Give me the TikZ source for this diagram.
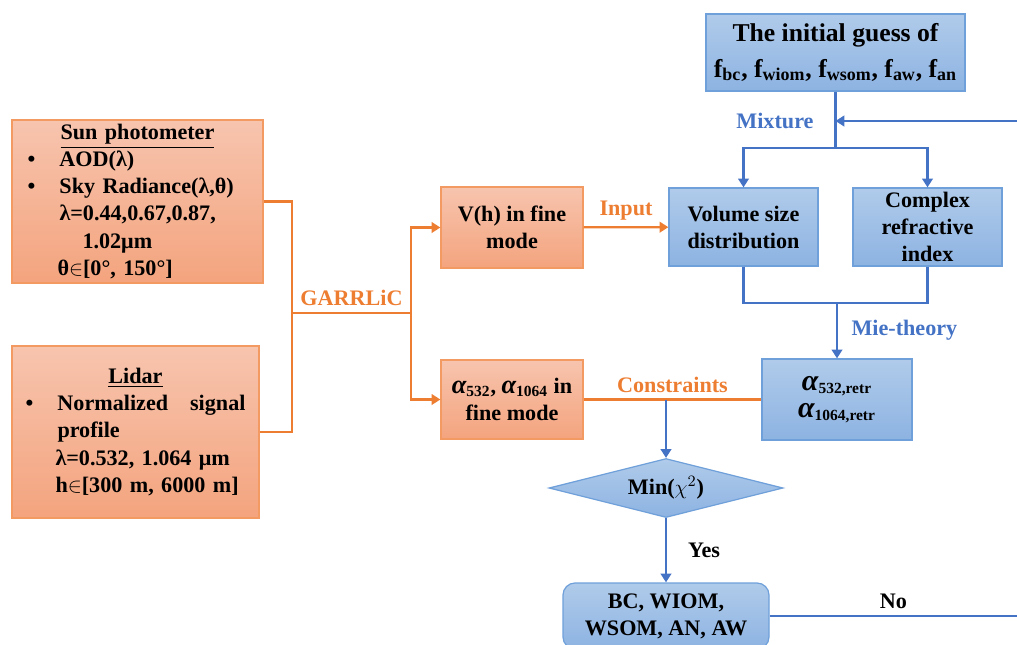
\documentclass[tikz,border=0pt]{standalone}
\usepackage{fontspec}
\setmainfont{Liberation Serif}
\usepackage{xcolor}
\usetikzlibrary{shapes.geometric,arrows.meta,positioning,calc}

\definecolor{orline}{HTML}{ED7D31}
\definecolor{orborder}{HTML}{F29A62}
\definecolor{ortop}{HTML}{F7C4AE}
\definecolor{orbot}{HTML}{F4A47E}
\definecolor{blline}{HTML}{4472C4}
\definecolor{blborder}{HTML}{6FA0DA}
\definecolor{bltop}{HTML}{B0CBEA}
\definecolor{blbot}{HTML}{8DB3E2}

\newcommand{\bul}{\makebox[0.64cm][l]{\textbullet}}
\newcommand{\alp}[1]{{\fontsize{#1}{#1}\selectfont\itshape α}}

\begin{document}
\begin{tikzpicture}[
  font=\bfseries\fontsize{12.6}{15.4}\selectfont,
  obox/.style={draw=orborder, line width=0.7pt, top color=ortop, bottom color=orbot, inner sep=0pt, align=center},
  bbox/.style={draw=blborder, line width=0.7pt, top color=bltop, bottom color=blbot, inner sep=0pt, align=center},
  bdia/.style={diamond, aspect=4, draw=blborder, line width=0.7pt, top color=bltop, bottom color=blbot, inner sep=0pt, minimum width=4.68cm, minimum height=1.18cm},
  oline/.style={draw=orline, line width=1.3pt},
  oarrow/.style={oline, -{Triangle[length=5pt,width=6pt]}},
  bline/.style={draw=blline, line width=1.3pt},
  barrow/.style={bline, -{Triangle[length=5pt,width=6pt]}},
  olabel/.style={text=orline},
  blabel/.style={text=blline}
]
\useasboundingbox (0,0) rectangle (20.34,-12.9);

% Sources
\node[obox, minimum width=5.02cm, minimum height=3.26cm, text width=4.4cm, align=left] (sun) at (2.75,-4.03)
  {\makebox[\linewidth]{\underline{Sun photometer}}\\
   \bul AOD(λ)\\
   \bul Sky Radiance(λ,θ)\\
   \hspace*{0.64cm}λ=0.44,0.67,0.87,\\
   \hspace*{1.1cm}1.02μm\\
   \hspace*{0.6cm}θ$\in$[0°, 150°]};
\node[obox, minimum width=4.94cm, minimum height=3.44cm, text width=4.4cm, align=left] (lidar) at (2.71,-8.64)
  {\makebox[\linewidth]{\underline{Lidar}}\\
   \bul Normalized\hfill signal\\
   \hspace*{0.64cm}profile\\
   \hspace*{0.6cm}λ=0.532, 1.064 μm\\
   \hspace*{0.6cm}h$\in$[300 m, 6000 m]};

% GARRLiC products
\node[obox, minimum width=2.84cm, minimum height=1.62cm] (vh) at (10.24,-4.55) {V(h) in fine\\mode};
\node[obox, minimum width=2.84cm, minimum height=1.58cm] (alpha) at (10.24,-7.99)
  {\alp{15}\textsubscript{532}, \alp{15}\textsubscript{1064} in\\fine mode};

\coordinate (gj) at (5.84,-6.26);
\coordinate (gs) at (8.22,-6.26);
\draw[oline] (sun.east) -| (gj) |- (lidar.east);
\draw[oline] (gj) -- (gs) node[midway, above, olabel] {GARRLiC};
\draw[oarrow] (gs) |- (vh.west);
\draw[oarrow] (gs) |- (alpha.west);

% Mixture model
\node[bbox, minimum width=5.18cm, minimum height=1.54cm, font=\bfseries\fontsize{14.6}{20}\selectfont] (guess) at (16.71,-1.05)
  {The initial guess of\\ f\textsubscript{bc}, f\textsubscript{wiom}, f\textsubscript{wsom}, f\textsubscript{aw}, f\textsubscript{an}};
\node[bbox, minimum width=2.98cm, minimum height=1.56cm] (vsd) at (14.87,-4.54) {Volume size\\distribution};
\node[bbox, minimum width=2.98cm, minimum height=1.56cm] (cri) at (18.55,-4.54) {Complex\\refractive\\index};
\node[bbox, minimum width=3.0cm, minimum height=1.62cm] (retr) at (16.74,-7.99)
  {\alp{17}\textsubscript{532,retr}\\\alp{17}\textsubscript{1064,retr}};

\coordinate (fb) at (20.34,-2.42);
\coordinate (mj) at (16.71,-2.96);
\draw[bline] (guess.south) -- (mj);
\draw[barrow] (mj) -| (vsd.north);
\draw[barrow] (mj) -| (cri.north);
\draw[barrow] (fb) -- (fb -| guess.south) node[left=0.3cm, blabel] {Mixture};

\draw[oarrow] (vh) -- (vsd) node[midway, above, olabel] {Input};

\coordinate (mie) at (16.74,-6.06);
\draw[bline] (vsd.south) -- (vsd.south |- mie) -- (cri.south |- mie) -- (cri.south);
\draw[barrow] (mie) -- (retr.north) node[midway, right=0.15cm, blabel] {Mie-theory};

% Cost function
\node[bdia] (minchi) at (13.32,-9.76) {Min($\chi^{2}$)};
\node[bbox, rounded corners=0.24cm, minimum width=4.12cm, minimum height=1.32cm] (res) at (13.32,-12.32)
  {BC, WIOM,\\WSOM, AN, AW};

\draw[oline] (alpha) -- (retr) node[midway, above, olabel] {Constraints};
\draw[barrow] (minchi.north |- alpha.east) -- (minchi.north);
\draw[barrow] (minchi.south) -- (res.north) node[midway, right=0.3cm] {Yes};

\coordinate (nofree) at (20.34,-12.32);
\draw[bline] (res.east) -- (nofree) node[midway, above] {No};
\end{tikzpicture}
\end{document}
